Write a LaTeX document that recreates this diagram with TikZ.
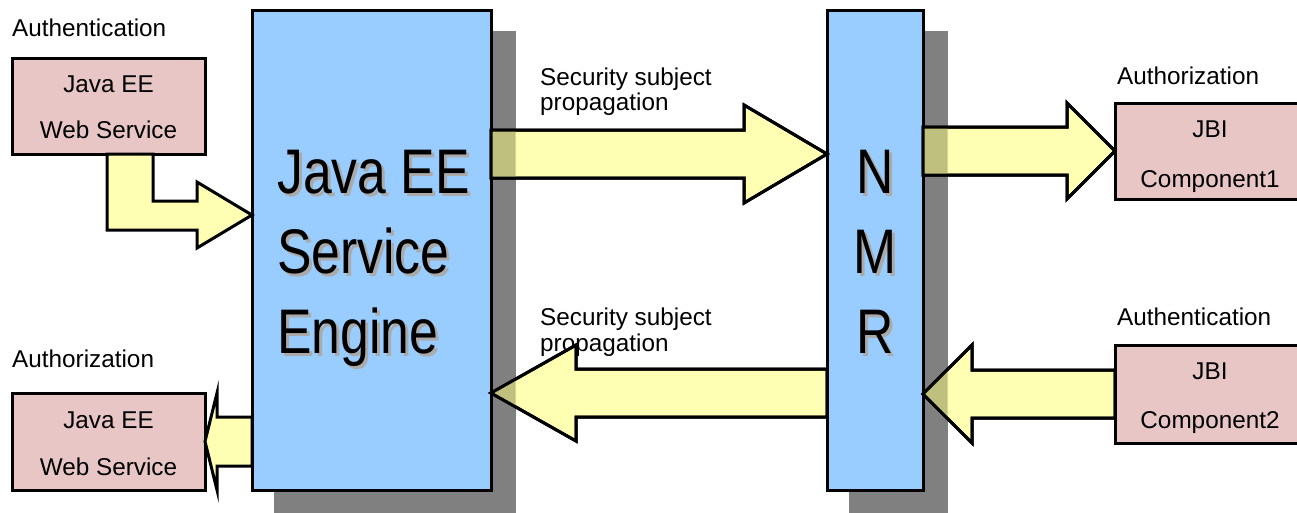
\documentclass[tikz,border=0pt]{standalone}
\usepackage{fontspec}
\setmainfont{Liberation Sans}
\usetikzlibrary{calc}
\definecolor{boxblue}{HTML}{99CCFF}
\definecolor{boxpink}{HTML}{E8C6C6}
\definecolor{arrowyellow}{HTML}{FFFFB4}
\definecolor{overlapolive}{HTML}{C0C07E}
\definecolor{shadowgray}{HTML}{808080}
\definecolor{textshadow}{HTML}{AAAAAA}
\newcommand\harrowpath[6]{% #1 options, #2 start, #3 tip, #4 shaft half, #5 head half, #6 signed head length
  \path[#1] let \p1=#2, \p2=#3 in
    (\x1,\y1+#4pt) -- (\x2-#6pt,\y1+#4pt) -- (\x2-#6pt,\y1+#5pt) -- (\x2,\y1)
    -- (\x2-#6pt,\y1-#5pt) -- (\x2-#6pt,\y1-#4pt) -- (\x1,\y1-#4pt) -- cycle;}
\newcommand\shadowtxt[1]{\makebox[0pt][l]{\hspace{3pt}\raisebox{-3pt}{\textcolor{textshadow}{\scalebox{0.82}[1]{#1}}}}\scalebox{0.82}[1]{#1}}
\begin{document}
\begin{tikzpicture}[x=1pt,y=-1pt,
  box/.style={draw=black,line width=3pt,inner sep=0pt,outer sep=0pt},
  engbox/.style={box,fill=boxblue},
  compbox/.style={box,fill=boxpink},
  blockarrow/.style={fill=arrowyellow,draw=black,line width=3pt,line join=miter},
  olivefill/.style={fill=overlapolive,draw=none},
  shadowbox/.style={fill=shadowgray,draw=none},
  lbl/.style={inner sep=0pt,font=\fontsize{24.3}{26}\selectfont},
  bigtxt/.style={inner sep=0pt,font=\fontsize{63}{70}\selectfont},
]
\useasboundingbox (0,0) rectangle (1297,512);
\clip (0,0) rectangle (1297,512);
% shadows
\fill[shadowbox] (273.5,30.5) rectangle (515.5,513.5);
\fill[shadowbox] (848.5,30.5) rectangle (947.5,513.5);
% boxes
\node[engbox,minimum width=239pt,minimum height=480pt] (ee) at (371.5,250) {};
\node[engbox,minimum width=96pt,minimum height=480pt] (nmr) at (875,250) {};
\node[compbox,minimum width=193pt,minimum height=96pt] (jbw1) at (108.5,106) {};
\node[compbox,minimum width=193pt,minimum height=97pt] (jbw2) at (108.5,441.5) {};
\node[compbox,minimum width=190pt,minimum height=96pt] (jbi1) at (1210,151) {};
\node[compbox,minimum width=190pt,minimum height=98pt] (jbi2) at (1210,394) {};
% big texts with shadows
\foreach \t/\yy/\nm in {Java EE/193/t1,Service/273/t2,Engine/353/t3}{
  \node[bigtxt,anchor=base west] (\nm) at (277,\yy) {\shadowtxt{\t}};
}
\foreach \t/\yy/\nm in {N/193/n1,M/273/n2,R/353/n3}{
  \node[bigtxt,anchor=base] (\nm) at (875,\yy) {\shadowtxt{\t}};
}
% box texts
\node[lbl,anchor=base] (jbw1a) at (jbw1.center |- 0,92) {Java EE};
\node[lbl,anchor=base] (jbw1b) at (jbw1.center |- 0,138) {Web Service};
\node[lbl,anchor=base] (jbw2a) at (jbw2.center |- 0,428) {Java EE};
\node[lbl,anchor=base] (jbw2b) at (jbw2.center |- 0,475) {Web Service};
\node[lbl,anchor=base] (jbi1a) at (jbi1.center |- 0,137) {JBI};
\node[lbl,anchor=base] (jbi1b) at (jbi1.center |- 0,187) {Component1};
\node[lbl,anchor=base] (jbi2a) at (jbi2.center |- 0,379) {JBI};
\node[lbl,anchor=base] (jbi2b) at (jbi2.center |- 0,428) {Component2};
% labels
\node[lbl,anchor=base west] (la1) at (12,36) {Authentication};
\node[lbl,anchor=base west] (lz1) at (12,367) {Authorization};
\node[lbl,anchor=base west] (lz2) at (1117,84) {Authorization};
\node[lbl,anchor=base west] (la2) at (1117,325) {Authentication};
\node[lbl,anchor=base west] (sp1) at (540,85) {Security subject};
\node[lbl,anchor=base west] (sp1b) at (540,110) {propagation};
\node[lbl,anchor=base west] (sp2) at (540,325) {Security subject};
\node[lbl,anchor=base west] (sp2b) at (540,351) {propagation};
% arrows
\harrowpath{blockarrow}{(ee.east |- 0,154)}{(nmr.west |- 0,154)}{24}{49}{83}
\harrowpath{blockarrow}{(nmr.east |- jbi1.center)}{(jbi1.west)}{24}{48}{48}
\harrowpath{blockarrow}{(jbi2.west)}{(nmr.east |- jbi2.center)}{24}{49}{-49}
\harrowpath{blockarrow}{(nmr.west |- 0,393)}{(ee.east |- 0,393)}{24}{48}{-85}
\harrowpath{blockarrow}{(ee.west |- jbw2.center)}{(jbw2.east)}{24.5}{48.5}{-12}
\draw[blockarrow] (107,154) -- (153,154) -- (153,201) -- (197,201) -- (197,182)
  -- (ee.west |- 0,215) -- (197,248) -- (197,230) -- (107,230) -- cycle;
% overlap of arrows with shadows
\begin{scope}
\clip (491,30.5) rectangle (515.5,513.5) (923,30.5) rectangle (947.5,513.5);
\harrowpath{olivefill}{(ee.east |- 0,154)}{(nmr.west |- 0,154)}{24}{49}{83}
\harrowpath{olivefill}{(nmr.east |- jbi1.center)}{(jbi1.west)}{24}{48}{48}
\harrowpath{olivefill}{(jbi2.west)}{(nmr.east |- jbi2.center)}{24}{49}{-49}
\harrowpath{olivefill}{(nmr.west |- 0,393)}{(ee.east |- 0,393)}{24}{48}{-85}
\end{scope}
\harrowpath{draw=black,line width=3pt}{(ee.east |- 0,154)}{(nmr.west |- 0,154)}{24}{49}{83}
\harrowpath{draw=black,line width=3pt}{(nmr.east |- jbi1.center)}{(jbi1.west)}{24}{48}{48}
\harrowpath{draw=black,line width=3pt}{(jbi2.west)}{(nmr.east |- jbi2.center)}{24}{49}{-49}
\harrowpath{draw=black,line width=3pt}{(nmr.west |- 0,393)}{(ee.east |- 0,393)}{24}{48}{-85}
\end{tikzpicture}
\end{document}
